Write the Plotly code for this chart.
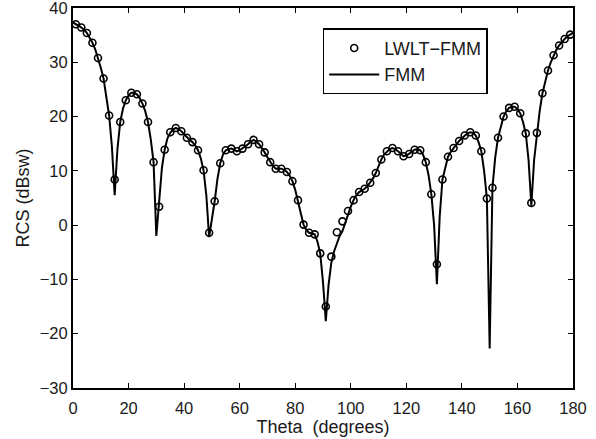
import plotly.graph_objects as go

# LWLT-FMM samples (odd degrees)
theta_lwlt = list(range(1, 180, 2))
rcs_lwlt = [37.0, 36.4, 35.4, 33.6, 30.8, 27.0, 20.2, 8.4, 19.0, 23.0,
            24.4, 24.1, 22.4, 19.0, 11.6, 3.4, 13.9, 17.1, 17.9, 17.3,
            16.1, 15.3, 13.8, 10.1, -1.4, 4.4, 11.4, 13.8, 14.1, 13.6,
            14.1, 14.9, 15.7, 14.9, 13.4, 11.6, 10.4, 10.4, 9.8, 8.1,
            4.6, 0.1, -1.4, -1.7, -5.2, -15.0, -5.8, -1.3, 0.7, 2.6,
            4.6, 6.1, 6.7, 7.8, 9.6, 12.1, 13.6, 14.2, 13.6, 12.7,
            13.1, 13.9, 13.8, 11.6, 5.7, -7.2, 8.4, 12.6, 14.2, 15.5,
            16.5, 17.1, 16.5, 13.6, 4.9, 6.9, 16.1, 20.0, 21.6, 21.8,
            20.6, 16.9, 4.1, 17.0, 24.3, 28.5, 31.3, 33.1, 34.3, 35.1]

# FMM reference (every degree)
theta_fmm = list(range(0, 181))
rcs_fmm = [37.4, 37.0, 36.8, 36.4, 36.0, 35.4, 34.6, 33.6, 32.4, 30.8,
           29.0, 27.0, 24.0, 20.2, 14.5, 5.5, 14.0, 19.0, 21.5, 23.0,
           23.9, 24.4, 24.4, 24.1, 23.4, 22.4, 21.0, 19.0, 15.8, 11.6,
           -2.0, 4.0, 10.5, 13.9, 16.0, 17.0, 17.6, 17.9, 17.7, 17.3,
           16.7, 16.1, 15.7, 15.3, 14.7, 13.8, 12.3, 10.1, 5.5, -2.2,
           1.0, 4.4, 8.5, 11.4, 13.0, 13.8, 14.0, 14.1, 13.9, 13.6,
           13.8, 14.1, 14.5, 14.9, 15.4, 15.7, 15.4, 14.9, 14.2, 13.4,
           12.5, 11.6, 10.9, 10.4, 10.4, 10.4, 10.2, 9.8, 9.1, 8.1,
           6.5, 4.6, 2.2, 0.1, -0.9, -1.4, -1.6, -1.7, -3.0, -5.2,
           -10.5, -17.7, -11.0, -6.9, -4.8, -3.2, -2.0, -1.1, 0.5, 2.0,
           3.4, 4.6, 5.5, 6.1, 6.4, 6.7, 7.2, 7.8, 8.6, 9.6,
           10.9, 12.1, 13.0, 13.6, 14.0, 14.2, 14.0, 13.6, 13.1, 12.7,
           12.8, 13.1, 13.5, 13.9, 14.0, 13.8, 13.0, 11.6, 9.2, 5.7,
           0.0, -10.9, 1.5, 8.4, 10.8, 12.6, 13.5, 14.2, 14.9, 15.5,
           16.0, 16.5, 16.9, 17.1, 17.0, 16.5, 15.3, 13.6, 10.0, 4.9,
           -22.7, 6.9, 12.5, 16.1, 18.3, 20.0, 21.0, 21.6, 21.8, 21.8,
           21.4, 20.6, 19.0, 16.9, 12.0, 3.6, 12.0, 17.0, 21.0, 24.3,
           26.6, 28.5, 30.0, 31.3, 32.3, 33.1, 33.8, 34.3, 34.8, 35.1,
           35.4]

x_ticks = list(range(0, 181, 20))
y_ticks = list(range(-30, 41, 10))

tick_font = dict(family="Liberation Sans, Arial", size=16.5, color="#1a1a1a")
title_font = dict(family="Liberation Sans, Arial", size=18, color="#1a1a1a")

fig = go.Figure()
fig.add_trace(go.Scatter(x=theta_lwlt, y=rcs_lwlt, mode="markers", name="LWLT\u2212FMM",
                         marker=dict(symbol="circle-open", size=7, color="black",
                                     line=dict(width=1.6, color="black"))))
fig.add_trace(go.Scatter(x=theta_fmm, y=rcs_fmm, mode="lines", name="FMM",
                         line=dict(color="black", width=2)))

axis_style = dict(showgrid=False, zeroline=False, showline=True, linecolor="black",
                  linewidth=2, mirror="ticks", ticks="inside", ticklen=5, tickwidth=1.2,
                  tickcolor="black", tickfont=tick_font, automargin=False,
                  ticklabeloverflow="allow")

fig.update_xaxes(range=[0, 180], tickvals=x_ticks, ticklabelstandoff=4,
                 title=dict(text="Theta  (degrees)", font=title_font, standoff=4),
                 **axis_style)
fig.update_yaxes(range=[-30, 40], tickvals=y_ticks,
                 ticktext=[str(v).replace("-", "\u2212") for v in y_ticks], ticklabelstandoff=0,
                 title=dict(text="RCS (dBsw)", font=title_font, standoff=5), **axis_style)

fig.update_layout(
    width=596, height=439,
    margin=dict(l=73, r=23, t=8, b=51, pad=0),
    plot_bgcolor="white", paper_bgcolor="white",
    showlegend=True,
    legend=dict(x=0.4994, y=0.9466, xanchor="left", yanchor="top", bgcolor="white",
                bordercolor="black", borderwidth=1.5, font=title_font, itemwidth=50,
                entrywidth=164, entrywidthmode="pixels", tracegroupgap=0),
)

# drop the browser's default 8px body margin so the figure sits at the page corner
fig.write_html("out.html", config={"displayModeBar": False},
               post_script="document.body.style.margin='0';")
